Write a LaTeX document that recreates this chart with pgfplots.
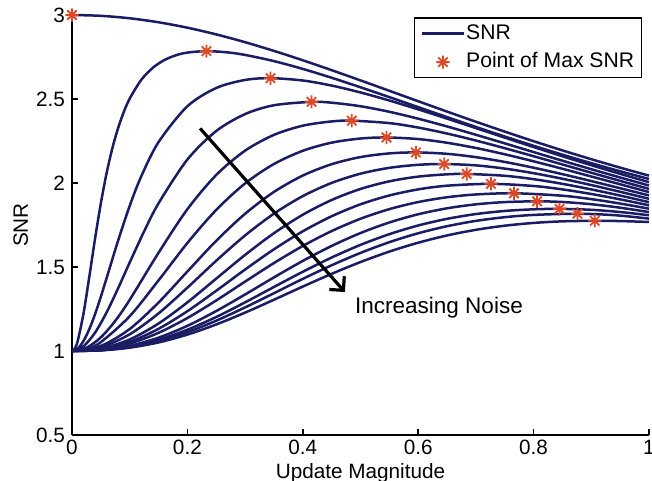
\documentclass[border=0pt]{standalone}
\usepackage{fontspec}
\setmainfont{Liberation Sans}
\usepackage{pgfplots}
\pgfplotsset{compat=1.18}
\usetikzlibrary{arrows.meta}

\definecolor{snrline}{RGB}{26,28,100}
\definecolor{snrstar}{RGB}{222,72,38}

% eight-spoke asterisk (plus and cross combined)
\pgfdeclareplotmark{star8}{%
  \pgfpathmoveto{\pgfqpoint{0pt}{\pgfplotmarksize}}%
  \pgfpathlineto{\pgfqpoint{0pt}{-\pgfplotmarksize}}%
  \pgfpathmoveto{\pgfqpoint{\pgfplotmarksize}{0pt}}%
  \pgfpathlineto{\pgfqpoint{-\pgfplotmarksize}{0pt}}%
  \pgfpathmoveto{\pgfqpoint{0.7071\pgfplotmarksize}{0.7071\pgfplotmarksize}}%
  \pgfpathlineto{\pgfqpoint{-0.7071\pgfplotmarksize}{-0.7071\pgfplotmarksize}}%
  \pgfpathmoveto{\pgfqpoint{-0.7071\pgfplotmarksize}{0.7071\pgfplotmarksize}}%
  \pgfpathlineto{\pgfqpoint{0.7071\pgfplotmarksize}{-0.7071\pgfplotmarksize}}%
  \pgfusepathqstroke}

\begin{document}
\begin{tikzpicture}
\begin{axis}[
  at={(0,0)}, anchor=south west,
  scale only axis, width=288.5bp, height=210bp,
  xmin=0, xmax=1, ymin=0.5, ymax=3,
  axis x line*=bottom, axis y line*=left,
  axis line style={line width=0.9bp, black},
  xtick={0,0.2,0.4,0.6,0.8,1}, ytick={0.5,1,1.5,2,2.5,3},
  tick align=inside, major tick length=3bp,
  tick style={line width=0.8bp, black},
  /pgf/number format/assume math mode=true,
  ticklabel style={font=\fontsize{10.4}{12}\selectfont},
  xticklabel style={yshift=1bp},
  xlabel={Update Magnitude}, ylabel={SNR},
  label style={font=\fontsize{10.4}{12}\selectfont},
  xlabel style={at={(axis description cs:0.5,-0.103)}, anchor=base},
  ylabel style={at={(axis description cs:-0.0763,0.5)}, anchor=base},
  clip=false,
  legend style={at={(0.988,0.9945)}, anchor=north east, draw=black,
    line width=0.6bp, font=\fontsize{10.6}{12}\selectfont,
    inner xsep=3.2bp, inner ysep=0.65bp, row sep=0bp,
    nodes={inner xsep=0.5bp, inner ysep=1.9bp, text height=8bp, text depth=2.5bp},
    cells={anchor=west}},
  legend image code/.code={\draw[mark repeat=2,mark phase=2,#1]
    plot coordinates {(0bp,0bp) (10.5bp,0bp) (21bp,0bp)};},
]

% noise-free curve
\addplot[snrline, line width=1.25bp, smooth] coordinates {
(0,3) (0.05,2.9951) (0.1,2.9805) (0.15,2.9567) (0.2,2.9244) (0.25,2.8845)
(0.3,2.8381) (0.35,2.7864) (0.4,2.7305) (0.45,2.6716) (0.5,2.6107) (0.55,2.5488)
(0.6,2.4867) (0.65,2.4251) (0.7,2.3647) (0.75,2.3058) (0.8,2.2488) (0.85,2.1940)
(0.9,2.1415) (0.95,2.0914) (1,2.0437)};
\addlegendentry{SNR}

\addplot[snrline, line width=1.25bp, smooth, forget plot] coordinates {
(0,1) (0.005,1.0156) (0.01,1.0611) (0.02,1.2239) (0.03,1.4417) (0.04,1.6696)
(0.05,1.8793) (0.06,2.0592) (0.07,2.2078) (0.08,2.3282) (0.09,2.4248) (0.1,2.5022)
(0.12,2.6139) (0.14,2.6857) (0.16,2.7316) (0.18,2.7601) (0.2,2.7763) (0.233,2.785)
(0.27,2.7773) (0.3,2.7623) (0.35,2.7256) (0.4,2.6791) (0.45,2.6264) (0.5,2.5698)
(0.55,2.5111) (0.6,2.4515) (0.65,2.3921) (0.7,2.3336) (0.75,2.2766) (0.8,2.2215)
(0.85,2.1686) (0.9,2.1179) (0.95,2.0697) (1,2.024)};

\addplot[snrline, line width=1.25bp, smooth, forget plot] coordinates {
(0,1) (0.01,1.0153) (0.02,1.0600) (0.03,1.1300) (0.04,1.2198) (0.05,1.3232)
(0.06,1.4340) (0.08,1.6580) (0.1,1.8639) (0.12,2.0395) (0.15,2.2437) (0.2,2.4568)
(0.25,2.5656) (0.3,2.6133) (0.344,2.624) (0.4,2.6101) (0.45,2.5799) (0.5,2.5390)
(0.55,2.4909) (0.6,2.4384) (0.65,2.3832) (0.7,2.3268) (0.75,2.2702) (0.8,2.2141)
(0.85,2.1593) (0.9,2.1060) (0.95,2.0545) (1,2.005)};

\addplot[snrline, line width=1.25bp, smooth, forget plot] coordinates {
(0,1) (0.02,1.0286) (0.04,1.1094) (0.06,1.2299) (0.08,1.3740) (0.1,1.5267)
(0.125,1.7121) (0.15,1.8792) (0.2,2.1399) (0.25,2.3095) (0.3,2.4103) (0.35,2.4628)
(0.415,2.483) (0.45,2.4780) (0.5,2.4569) (0.55,2.4239) (0.6,2.3828) (0.65,2.3366)
(0.7,2.2870) (0.75,2.2359) (0.8,2.1841) (0.85,2.1326) (0.9,2.0820) (0.95,2.0327)
(1,1.985)};

\addplot[snrline, line width=1.25bp, smooth, forget plot] coordinates {
(0,1) (0.025,1.0196) (0.05,1.0811) (0.075,1.1796) (0.1,1.3045) (0.15,1.5847)
(0.2,1.8441) (0.25,2.0480) (0.3,2.1925) (0.35,2.2865) (0.4,2.3412) (0.45,2.3665)
(0.485,2.371) (0.55,2.3565) (0.6,2.3300) (0.65,2.2944) (0.7,2.2527) (0.75,2.2072)
(0.8,2.1593) (0.85,2.1103) (0.9,2.0612) (0.95,2.0126) (1,1.965)};

\addplot[snrline, line width=1.25bp, smooth, forget plot] coordinates {
(0,1) (0.025,1.0126) (0.05,1.0528) (0.1,1.2068) (0.15,1.4204) (0.2,1.6430)
(0.25,1.8402) (0.3,1.9975) (0.35,2.1131) (0.4,2.1918) (0.45,2.2402) (0.5,2.2648)
(0.545,2.271) (0.6,2.2615) (0.65,2.2395) (0.7,2.2084) (0.75,2.1709) (0.8,2.1291)
(0.85,2.0846) (0.9,2.0387) (0.95,1.9923) (1,1.946)};

\addplot[snrline, line width=1.25bp, smooth, forget plot] coordinates {
(0,1) (0.05,1.0303) (0.1,1.1310) (0.15,1.2886) (0.2,1.4733) (0.25,1.6561)
(0.3,1.8170) (0.35,1.9469) (0.4,2.0443) (0.45,2.1119) (0.5,2.1543) (0.55,2.1762)
(0.596,2.182) (0.65,2.1737) (0.7,2.1538) (0.75,2.1254) (0.8,2.0910) (0.85,2.0525)
(0.9,2.0114) (0.95,1.9690) (1,1.926)};

\addplot[snrline, line width=1.25bp, smooth, forget plot] coordinates {
(0,1) (0.05,1.0227) (0.1,1.0994) (0.15,1.2238) (0.2,1.3770) (0.25,1.5375)
(0.3,1.6880) (0.35,1.8177) (0.4,1.9219) (0.45,2.0005) (0.5,2.0555) (0.55,2.0903)
(0.6,2.1083) (0.645,2.113) (0.7,2.1049) (0.75,2.0858) (0.8,2.0584) (0.85,2.0252)
(0.9,1.9878) (0.95,1.9477) (1,1.906)};

\addplot[snrline, line width=1.25bp, smooth, forget plot] coordinates {
(0,1) (0.05,1.0145) (0.1,1.0686) (0.15,1.1636) (0.2,1.2895) (0.25,1.4308)
(0.3,1.5720) (0.35,1.7012) (0.4,1.8112) (0.45,1.8989) (0.5,1.9645) (0.55,2.0100)
(0.6,2.0380) (0.65,2.0516) (0.684,2.054) (0.75,2.0430) (0.8,2.0227) (0.85,1.9950)
(0.9,1.9619) (0.95,1.9252) (1,1.886)};

\addplot[snrline, line width=1.25bp, smooth, forget plot] coordinates {
(0,1) (0.05,1.0115) (0.1,1.0548) (0.15,1.1320) (0.2,1.2369) (0.25,1.3586)
(0.3,1.4849) (0.35,1.6053) (0.4,1.7125) (0.45,1.8021) (0.5,1.8731) (0.55,1.9258)
(0.6,1.9620) (0.65,1.9839) (0.726,1.995) (0.8,1.9822) (0.85,1.9619) (0.9,1.9347)
(0.95,1.9026) (1,1.867)};

\addplot[snrline, line width=1.25bp, smooth, forget plot] coordinates {
(0,1) (0.05,1.0093) (0.1,1.0446) (0.15,1.1082) (0.2,1.1963) (0.25,1.3010)
(0.3,1.4131) (0.35,1.5235) (0.4,1.6253) (0.45,1.7140) (0.5,1.7872) (0.55,1.8445)
(0.6,1.8866) (0.65,1.9151) (0.7,1.9318) (0.766,1.939) (0.85,1.9242) (0.9,1.9040)
(0.95,1.8777) (1,1.847)};

\addplot[snrline, line width=1.25bp, smooth, forget plot] coordinates {
(0,1) (0.05,1.0060) (0.1,1.0311) (0.15,1.0794) (0.2,1.1498) (0.25,1.2378)
(0.3,1.3364) (0.35,1.4382) (0.4,1.5363) (0.45,1.6254) (0.5,1.7022) (0.55,1.7651)
(0.6,1.8139) (0.65,1.8494) (0.7,1.8730) (0.75,1.8863) (0.806,1.891) (0.85,1.8869)
(0.9,1.8736) (0.95,1.8530) (1,1.827)};

\addplot[snrline, line width=1.25bp, smooth, forget plot] coordinates {
(0,1) (0.05,1.0050) (0.1,1.0260) (0.15,1.0666) (0.2,1.1266) (0.25,1.2026)
(0.3,1.2895) (0.35,1.3811) (0.4,1.4717) (0.45,1.5564) (0.5,1.6317) (0.55,1.6955)
(0.6,1.7471) (0.65,1.7867) (0.7,1.8151) (0.75,1.8336) (0.8,1.8434) (0.845,1.846)
(0.9,1.8405) (0.95,1.8273) (1,1.808)};

\addplot[snrline, line width=1.25bp, smooth, forget plot] coordinates {
(0,1) (0.05,1.0044) (0.1,1.0229) (0.15,1.0588) (0.2,1.1121) (0.25,1.1804)
(0.3,1.2595) (0.35,1.3441) (0.4,1.4293) (0.45,1.5103) (0.5,1.5839) (0.55,1.6478)
(0.6,1.7008) (0.65,1.7429) (0.7,1.7745) (0.75,1.7965) (0.8,1.8100) (0.876,1.817)
(0.94,1.8086) (1,1.788)};

\addplot[snrline, line width=1.25bp, smooth, forget plot] coordinates {
(0,1) (0.05,1.0038) (0.1,1.0198) (0.15,1.0511) (0.2,1.0977) (0.25,1.1580)
(0.3,1.2286) (0.35,1.3052) (0.4,1.3835) (0.45,1.4593) (0.5,1.5295) (0.55,1.5917)
(0.6,1.6446) (0.65,1.6878) (0.7,1.7213) (0.75,1.7459) (0.8,1.7623) (0.85,1.7717)
(0.906,1.775) (0.95,1.7734) (1,1.768)};

% maxima of the curves
\addplot[only marks, mark=star8, mark size=3.3bp, color=snrstar, line width=0.9bp] coordinates {
(0,3) (0.233,2.785) (0.344,2.624) (0.415,2.483) (0.485,2.371) (0.545,2.271)
(0.596,2.182) (0.645,2.113) (0.684,2.054) (0.726,1.995) (0.766,1.939)
(0.806,1.891) (0.845,1.846) (0.876,1.817) (0.906,1.775)};
\addlegendentry{Point of Max SNR}

\draw[line width=1.6bp, -{Straight Barb[length=5bp,width=10bp,line width=1.6bp]}]
  (axis cs:0.222,2.325) -- (axis cs:0.473,1.351);
\node[anchor=base west, font=\fontsize{11.3}{13}\selectfont, inner sep=0pt]
  at (axis cs:0.49,1.226) {Increasing Noise};
\end{axis}
\pgfresetboundingbox
\useasboundingbox (-36bp,-23bp) rectangle (290bp,217.5bp);
\end{tikzpicture}
\end{document}
